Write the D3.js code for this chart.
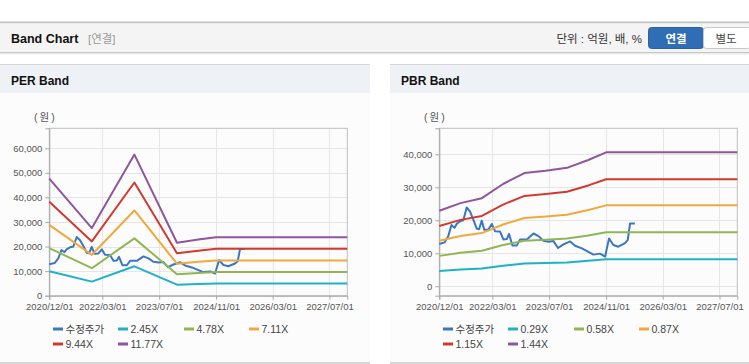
<!DOCTYPE html>
<html>
<head>
<meta charset="utf-8">
<script src="https://cdn.jsdelivr.net/npm/d3@7"></script>
<style>
  body { margin: 0; background: #fff; }
  svg { display: block; font-family: "Liberation Sans", "Noto Sans CJK KR", sans-serif; }
</style>
</head>
<body>
<svg id="chart" width="749" height="364"></svg>
<script>
// adjusted share price (same series in both panels)
const priceDates = ["2020-12-01","2021-01-15","2021-02-15","2021-03-15","2021-04-10","2021-05-01","2021-05-28","2021-06-25",
  "2021-07-24","2021-08-22","2021-09-19","2021-10-18","2021-11-07","2021-11-30","2021-12-22","2022-01-26","2022-02-24",
  "2022-03-24","2022-05-06","2022-06-04","2022-07-03","2022-07-22","2022-08-20","2022-09-27","2022-10-25","2022-12-22",
  "2023-02-17","2023-04-01","2023-05-13","2023-06-25","2023-08-07","2023-09-15","2023-11-01","2023-12-28","2024-02-09",
  "2024-04-07","2024-06-02","2024-07-15","2024-09-10","2024-10-23","2024-11-26","2025-01-02","2025-02-14","2025-04-12",
  "2025-05-05","2025-05-25","2025-07-05"]
const priceValues = [12800,13300,15100,18600,17700,19000,19700,20000,
  23900,22600,20200,17500,17300,19900,17100,17200,18900,
  16700,16600,14200,14300,15850,12400,12400,14200,14200,
  16000,15200,13800,13500,13700,11600,12700,13600,12300,
  11500,10400,9600,9900,9000,14500,12500,12000,13100,
  14000,19000,19000]

// PER band
const perBandDates = ["2020-12-01","2021-12-01","2022-12-01","2023-12-01","2024-06-01","2024-11-01","2027-12-01"]
const perLabels = ["2.45X","4.78X","7.11X","9.44X","11.77X"]
const per245  = [9920, 5730, 11960, 4480, 4750, 4950, 4950]
const per478  = [19360, 11190, 23330, 8750, 9270, 9660, 9660]
const per711  = [28800, 16640, 34700, 13010, 13790, 14360, 14360]
const per944  = [38230, 22090, 46070, 17280, 18310, 19070, 19070]
const per1177 = [47670, 27540, 57440, 21540, 22830, 23780, 23780]

// PBR band
const pbrBandDates = ["2020-12-01","2021-06-01","2021-12-01","2022-06-01","2022-12-01","2023-06-01","2023-12-01","2024-06-01","2024-11-01","2027-12-01"]
const pbrLabels = ["0.29X","0.58X","0.87X","1.15X","1.44X"]
const pbr029 = [4610, 5080, 5380, 6240, 6910, 7050, 7230, 7710, 8180, 8180]
const pbr058 = [9220, 10150, 10750, 12490, 13820, 14100, 14460, 15420, 16350, 16350]
const pbr087 = [13830, 15230, 16130, 18730, 20720, 21150, 21690, 23120, 24530, 24530]
const pbr115 = [18290, 20130, 21320, 24760, 27390, 27960, 28670, 30570, 32420, 32420]
const pbr144 = [22900, 25200, 26700, 31000, 34300, 35000, 35900, 38270, 40600, 40600]

const xTickLabels = ["2020/12/01","2022/03/01","2023/07/01","2024/11/01","2026/03/01","2027/07/01"]
const perYTicks = [0, 10000, 20000, 30000, 40000, 50000, 60000]
const pbrYTicks = [0, 10000, 20000, 30000, 40000]
const priceLabel = "수정주가"
const colors = ["#3a76c4", "#1eb2c4", "#8fb652", "#f1a83c", "#d23a2f", "#8e569b"]

const parseDate = d3.timeParse("%Y-%m-%d")
const parseTick = d3.timeParse("%Y/%m/%d")
const svg = d3.select("#chart")

// ---- top bar ----
svg.append("rect").attr("x", 0).attr("y", 21.5).attr("width", 749).attr("height", 2).attr("fill", "#c2c2c2")
svg.append("rect").attr("x", 0).attr("y", 23.5).attr("width", 749).attr("height", 29).attr("fill", "#f4f4f4")
svg.append("rect").attr("x", 0).attr("y", 52).attr("width", 749).attr("height", 1).attr("fill", "#c6c6c6")
svg.append("rect").attr("x", 0).attr("y", 53).attr("width", 749).attr("height", 1.5).attr("fill", "#ececec")
svg.append("text").attr("x", 11).attr("y", 43).attr("font-size", "12.5px").attr("font-weight", "bold")
  .attr("fill", "#111").text("Band Chart")
svg.append("text").attr("x", 88).attr("y", 43).attr("font-size", "11.5px").attr("fill", "#9a9a9a").text("[연결]")
svg.append("text").attr("x", 642).attr("y", 43).attr("text-anchor", "end").attr("font-size", "11.5px")
  .attr("fill", "#333").text("단위 : 억원, 배, %")
svg.append("rect").attr("x", 648.5).attr("y", 27.5).attr("width", 55).attr("height", 21).attr("rx", 3)
  .attr("fill", "#2f6db4").attr("stroke", "#2a62a3")
svg.append("text").attr("x", 676).attr("y", 42.5).attr("text-anchor", "middle").attr("font-size", "11.5px")
  .attr("font-weight", "bold").attr("fill", "#fff").text("연결")
svg.append("rect").attr("x", 703.5).attr("y", 27.5).attr("width", 47).attr("height", 21).attr("rx", 3)
  .attr("fill", "#fff").attr("stroke", "#c8c8c8")
svg.append("text").attr("x", 726).attr("y", 42.5).attr("text-anchor", "middle").attr("font-size", "11.5px")
  .attr("fill", "#444").text("별도")

const price = priceDates.map((d, i) => ({ date: parseDate(d), value: priceValues[i] }))

function makeBands(dates, arrays) {
  return arrays.map(arr => arr.map((v, i) => ({ date: parseDate(dates[i]), value: v })))
}

drawPanel({
  left: 0, width: 370, title: "PER Band", yDomain: [0, 68130], yTicks: perYTicks,
  bands: makeBands(perBandDates, [per245, per478, per711, per944, per1177]), labels: perLabels
})
drawPanel({
  left: 390, width: 359, title: "PBR Band", yDomain: [-2850, 47880], yTicks: pbrYTicks,
  bands: makeBands(pbrBandDates, [pbr029, pbr058, pbr087, pbr115, pbr144]), labels: pbrLabels
})

function drawPanel(opt) {
  const g = svg.append("g").attr("transform", `translate(${opt.left},0)`)
  // panel frame
  g.append("rect").attr("x", 0).attr("y", 64).attr("width", opt.width).attr("height", 1).attr("fill", "#d6d6d6")
  g.append("rect").attr("x", 0).attr("y", 65).attr("width", opt.width).attr("height", 28).attr("fill", "#eef1f6")
  g.append("rect").attr("x", 0).attr("y", 93).attr("width", opt.width).attr("height", 269).attr("fill", "#fcfcfc")
  g.append("rect").attr("x", 0).attr("y", 362).attr("width", opt.width).attr("height", 2).attr("fill", "#d4d4d4")
  g.append("text").attr("x", 11).attr("y", 85).attr("font-size", "12px").attr("font-weight", "bold")
    .attr("fill", "#111").text(opt.title)

  const plot = { left: 49.3, right: 347.3, top: 128.3, bottom: 295.7 }
  const x = d3.scaleTime().domain([parseDate("2020-12-01"), parseDate("2027-12-01")]).range([plot.left, plot.right])
  const y = d3.scaleLinear().domain(opt.yDomain).range([plot.bottom, plot.top])
  const xTicks = xTickLabels.map(parseTick)

  // grid
  g.append("g").selectAll("line").data(opt.yTicks).join("line")
    .attr("x1", plot.left).attr("x2", plot.right)
    .attr("y1", d => Math.round(y(d)) + 0.5).attr("y2", d => Math.round(y(d)) + 0.5)
    .attr("stroke", "#e6e6e6")
  g.append("g").selectAll("line").data(xTicks).join("line")
    .attr("x1", d => Math.round(x(d)) + 0.5).attr("x2", d => Math.round(x(d)) + 0.5)
    .attr("y1", plot.top).attr("y2", plot.bottom)
    .attr("stroke", "#e6e6e6")
  g.append("rect").attr("x", plot.left).attr("y", plot.top)
    .attr("width", plot.right - plot.left).attr("height", plot.bottom - plot.top)
    .attr("fill", "none").attr("stroke", "#bdbdbd")

  // axes
  const yAxis = g.append("g").attr("transform", `translate(${plot.left},0)`)
    .call(d3.axisLeft(y).tickValues(opt.yTicks).tickSize(4).tickPadding(3).tickFormat(d3.format(",")))
  const xAxis = g.append("g").attr("transform", `translate(0,${plot.bottom})`)
    .call(d3.axisBottom(x).tickValues(xTicks).tickSize(4).tickPadding(4).tickFormat(d3.timeFormat("%Y/%m/%d")))
  for (const ax of [yAxis, xAxis]) {
    ax.select(".domain").attr("stroke", "#a8a8a8")
    ax.selectAll(".tick line").attr("stroke", "#a8a8a8")
    ax.selectAll("text").attr("fill", "#555").attr("font-size", "9.5px")
      .attr("font-family", "\"Liberation Sans\", sans-serif")
  }
  g.append("text").attr("x", 34).attr("y", 121).attr("font-size", "10.5px").attr("letter-spacing", "2px")
    .attr("fill", "#555").text("(원)")

  // series
  const line = d3.line().x(d => x(d.date)).y(d => y(d.value))
  const series = [price, ...opt.bands]
  g.append("g").selectAll("path").data(series).join("path")
    .attr("d", line)
    .attr("fill", "none")
    .attr("stroke", (d, i) => colors[i])
    .attr("stroke-width", 2)
    .attr("stroke-linejoin", "round")

  // legend
  const names = [priceLabel, ...opt.labels]
  const colX = [53, 118, 184, 249]
  const legend = g.append("g").selectAll("g").data(names).join("g")
    .attr("transform", (d, i) => `translate(${colX[i % 4]},${i < 4 ? 329 : 344})`)
  legend.append("rect").attr("x", 0).attr("y", -1.5).attr("width", 10).attr("height", 3)
    .attr("fill", (d, i) => colors[i])
  legend.append("text").attr("x", 12.5).attr("y", 4).attr("font-size", "10.5px").attr("fill", "#444")
    .text(d => d)
}
</script>
</body>
</html>
